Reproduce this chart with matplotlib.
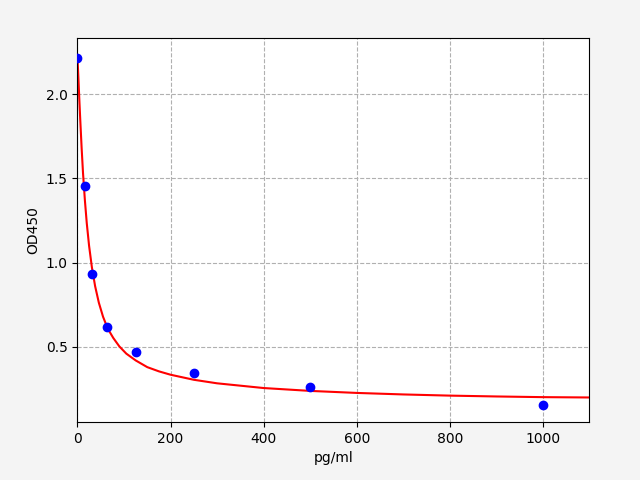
import matplotlib
matplotlib.use('Agg')
from matplotlib import pyplot as plt

# standard points
conc = [0, 15.625, 31.25, 62.5, 125, 250, 500, 1000]
od = [2.214, 1.453, 0.935, 0.619, 0.470, 0.346, 0.263, 0.156]

# fitted curve
curve_x = [0, 2, 4, 6, 9, 12, 16, 20, 25, 31, 38, 46, 55, 65, 77, 90, 105,
           125, 150, 175, 200, 250, 300, 400, 500, 600, 700, 800, 900, 1000, 1100]
curve_y = [2.22, 2.10, 1.97, 1.85, 1.68, 1.53, 1.37, 1.235, 1.10, 0.973, 0.86,
           0.762, 0.679, 0.609, 0.553, 0.503, 0.46, 0.42, 0.38, 0.355, 0.335,
           0.305, 0.284, 0.256, 0.239, 0.227, 0.218, 0.211, 0.206, 0.202, 0.200]

fig = plt.figure(figsize=(6.4, 4.8), dpi=100, facecolor='#f4f4f4')
ax = fig.add_subplot(111)
fig.subplots_adjust(left=0.121, right=0.921, top=0.92, bottom=0.121)

ax.plot(conc, od, 'o', color='blue', zorder=3)
ax.plot(curve_x, curve_y, '-', color='red', zorder=2)

ax.set_xlim(0, 1100)
ax.set_ylim(0.055, 2.33)
ax.set_yticks([0.5, 1.0, 1.5, 2.0])
ax.set_xlabel('pg/ml')
ax.set_ylabel('OD450')
ax.grid(True, linestyle='--')

fig.savefig('out.png', dpi=100, facecolor=fig.get_facecolor())
